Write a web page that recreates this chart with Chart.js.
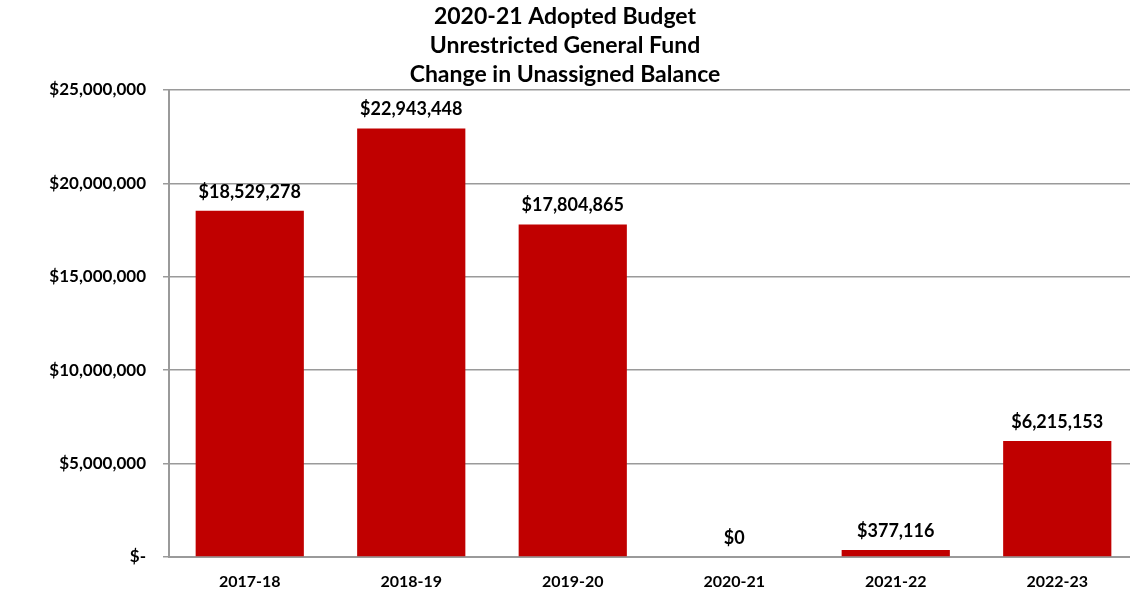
<!DOCTYPE html>
<html>
<head>
<meta charset="utf-8">
<script src="https://cdn.jsdelivr.net/npm/chart.js@4/dist/chart.umd.min.js"></script>
<style>
  html, body { margin: 0; padding: 0; background: #fff; overflow: hidden; }
  #wrap { width: 1130px; height: 596px; overflow: hidden; }
</style>
</head>
<body>
<div id="wrap"><canvas id="fund_chart" width="1138" height="596"></canvas></div>
<script>
var years = ["2017-18", "2018-19", "2019-20", "2020-21", "2021-22", "2022-23"];
var balances = [18529278, 22943448, 17804865, 0, 377116, 6215153];
var yTicks = [0, 5000000, 10000000, 15000000, 20000000, 25000000];
var titleLines = ["2020-21 Adopted Budget", "Unrestricted General Fund", "Change in Unassigned Balance"];

function money(v) {
    return "$" + Math.round(v).toString().replace(/\B(?=(\d{3})+(?!\d))/g, ",");
}

// draws the value above each bar
var barLabels = {
    id: "barLabels",
    afterDatasetsDraw: function (chart) {
        var ctx = chart.ctx;
        var meta = chart.getDatasetMeta(0);
        ctx.save();
        ctx.font = "bold 18px Lato";
        ctx.fillStyle = "#000";
        ctx.textAlign = "center";
        ctx.textBaseline = "bottom";
        meta.data.forEach(function (bar, i) {
            ctx.fillText(money(balances[i]), bar.x, bar.y - 10);
        });
        ctx.restore();
    }
};

var ctx = document.getElementById("fund_chart").getContext("2d");
var fundChart = new Chart(ctx, {
    type: "bar",
    data: {
        labels: years,
        datasets: [{
            data: balances,
            backgroundColor: "#C00000",
            categoryPercentage: 0.67,
            barPercentage: 1
        }]
    },
    options: {
        responsive: false,
        animation: false,
        layout: { padding: { top: 0, right: 0, bottom: 6, left: 0 } },
        plugins: {
            legend: { display: false },
            tooltip: { enabled: false },
            title: {
                display: true,
                text: titleLines,
                color: "#000",
                font: { family: "Lato", size: 23, weight: "bold", lineHeight: 29 / 23 },
                padding: { top: 2.5, bottom: 0.5 }
            }
        },
        scales: {
            x: {
                afterFit: function (scale) { scale.height = 33; },
                grid: { display: false, drawTicks: false },
                border: { display: true, color: "#9a9a9a", width: 2 },
                ticks: {
                    color: "#000",
                    padding: 15,
                    font: { family: "Lato", size: 16, weight: "bold" }
                }
            },
            y: {
                min: 0,
                max: 25000000,
                afterFit: function (scale) { scale.width = 169; },
                afterBuildTicks: function (scale) {
                    scale.ticks = yTicks.map(function (v) { return { value: v }; });
                },
                grid: { color: "#9a9a9a", lineWidth: 1.5, tickLength: 6 },
                border: { display: true, color: "#9a9a9a", width: 2 },
                ticks: {
                    color: "#000",
                    padding: 17,
                    font: { family: "Lato", size: 17, weight: "bold" },
                    callback: function (v) { return v === 0 ? "$-" : money(v); }
                }
            }
        }
    },
    plugins: [barLabels, {
        // keep title centred on the visible 1130px, not the wider canvas
        id: "titleCentre",
        afterLayout: function (chart) {
            var t = chart.titleBlock;
            if (t) { t.left = 0; t.right = 1130; t.width = 1130; }
        }
    }]
});
</script>
</body>
</html>
